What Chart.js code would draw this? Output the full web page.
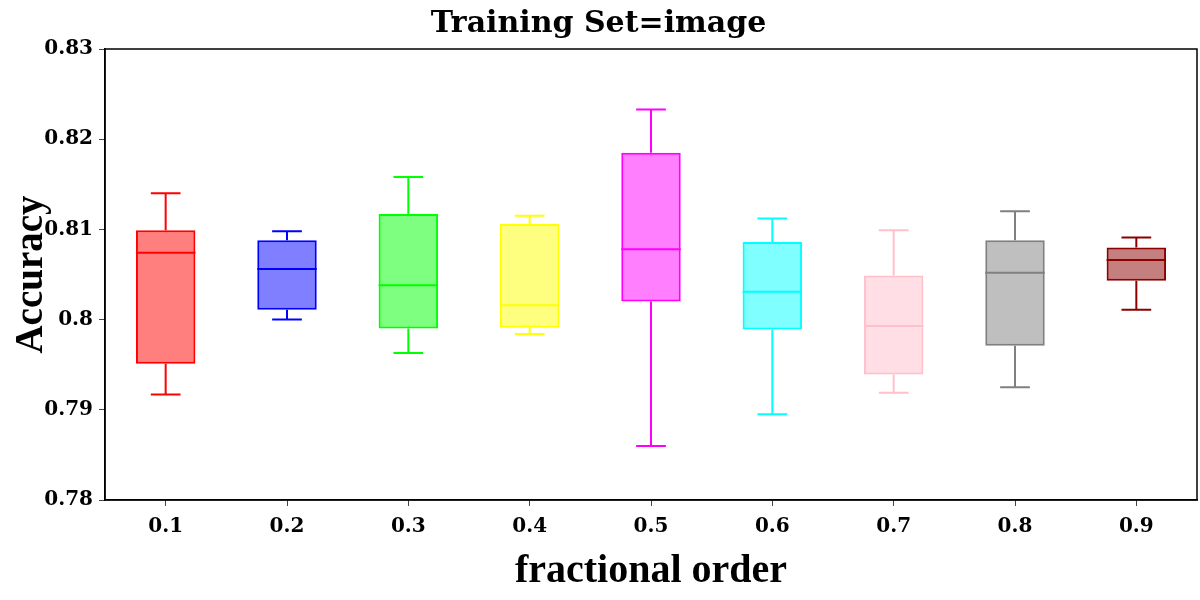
<!DOCTYPE html>
<html>
<head>
<meta charset="utf-8">
<script src="https://cdn.jsdelivr.net/npm/chart.js@4.4.1/dist/chart.umd.min.js"></script>
<style>
  html, body { margin: 0; padding: 0; background: #fff; }
  #wrap { width: 1200px; height: 600px; position: relative; }
</style>
</head>
<body>
<div id="wrap"><canvas id="box-chart"></canvas></div>
<script>
/* Box plot values (one entry per fractional order) */
const orders   = ['0.1', '0.2', '0.3', '0.4', '0.5', '0.6', '0.7', '0.8', '0.9'];
const whiskLo  = [0.7917, 0.8000, 0.7963, 0.7984, 0.7860, 0.7895, 0.7919, 0.7925, 0.8011];
const q1       = [0.7951, 0.8011, 0.7990, 0.7991, 0.8020, 0.7989, 0.7939, 0.7971, 0.8043];
const medians  = [0.8074, 0.8056, 0.8038, 0.8016, 0.8078, 0.8031, 0.7993, 0.8052, 0.8066];
const q3       = [0.8099, 0.8088, 0.8117, 0.8106, 0.8185, 0.8086, 0.8049, 0.8088, 0.8080];
const whiskHi  = [0.8140, 0.8098, 0.8158, 0.8115, 0.8233, 0.8112, 0.8099, 0.8120, 0.8091];
const yTicks   = [0.78, 0.79, 0.8, 0.81, 0.82, 0.83];

const lineColors = ['#ff0000', '#0000ff', '#00ff00', '#ffff00', '#ff00ff', '#00ffff', '#ffc0cb', '#808080', '#8b0000'];
const fillColors = ['rgba(255,0,0,0.5)', 'rgba(0,0,255,0.5)', 'rgba(0,255,0,0.5)', 'rgba(255,255,0,0.5)',
                    'rgba(255,0,255,0.5)', 'rgba(0,255,255,0.5)', 'rgba(255,192,203,0.5)',
                    'rgba(128,128,128,0.5)', 'rgba(139,0,0,0.5)'];

const SERIF = "'Liberation Serif', 'DejaVu Serif', serif";
const DJV   = "'DejaVu Serif', 'Liberation Serif', serif";

/* whiskers, caps, medians and the top/right frame */
const boxExtras = {
  id: 'boxExtras',
  afterDatasetsDraw(chart) {
    const { ctx, chartArea, scales } = chart;
    const bars = chart.getDatasetMeta(0).data;
    ctx.save();
    ctx.lineWidth = 2;
    bars.forEach((bar, i) => {
      const x = bar.x;
      const half = bar.width / 2;
      const cap = half / 2;
      const yLo = scales.y.getPixelForValue(whiskLo[i]);
      const yQ1 = scales.y.getPixelForValue(q1[i]);
      const yMd = scales.y.getPixelForValue(medians[i]);
      const yQ3 = scales.y.getPixelForValue(q3[i]);
      const yHi = scales.y.getPixelForValue(whiskHi[i]);
      ctx.strokeStyle = lineColors[i];
      ctx.beginPath();
      ctx.moveTo(x, yQ1); ctx.lineTo(x, yLo);
      ctx.moveTo(x - cap, yLo); ctx.lineTo(x + cap, yLo);
      ctx.moveTo(x, yQ3); ctx.lineTo(x, yHi);
      ctx.moveTo(x - cap, yHi); ctx.lineTo(x + cap, yHi);
      ctx.moveTo(x - half, yMd); ctx.lineTo(x + half, yMd);
      ctx.stroke();
    });
    ctx.strokeStyle = '#000';
    ctx.lineWidth = 1.5;
    ctx.strokeRect(chartArea.left, chartArea.top, chartArea.right - chartArea.left, chartArea.bottom - chartArea.top);
    ctx.restore();
  },
};

new Chart(document.getElementById('box-chart'), {
  type: 'bar',
  data: {
    labels: orders,
    datasets: [{
      data: orders.map((_, i) => [q1[i], q3[i]]),
      backgroundColor: fillColors,
      borderColor: lineColors,
      borderWidth: 2,
      borderSkipped: false,
      barPercentage: 0.49,
      categoryPercentage: 1,
    }],
  },
  options: {
    responsive: true,
    maintainAspectRatio: false,
    animation: false,
    layout: { padding: { left: 0, right: 3, top: 0, bottom: 0 } },
    plugins: {
      legend: { display: false },
      tooltip: { enabled: false },
      title: {
        display: true,
        text: 'Training Set=image',
        color: '#000',
        font: { family: DJV, size: 30, weight: 'bold', lineHeight: 1.2 },
        padding: { top: 6, bottom: 7 },
      },
    },
    scales: {
      x: {
        grid: { display: true, offset: false, drawOnChartArea: false, drawTicks: true, tickLength: 6, color: '#444' },
        border: { display: true, color: '#000', width: 1.5 },
        ticks: { color: '#000', padding: 9, font: { family: DJV, size: 20, weight: 'bold' } },
        title: {
          display: true, text: 'fractional order', color: '#000',
          font: { family: SERIF, size: 40, weight: 'bold', lineHeight: 1.2 },
          padding: { top: 0, bottom: 4 },
        },
        afterFit(scale) { scale.height = 100; },
      },
      y: {
        min: 0.78,
        max: 0.83,
        afterBuildTicks(scale) { scale.ticks = yTicks.map(v => ({ value: v })); },
        grid: { display: true, drawOnChartArea: false, drawTicks: true, tickLength: 6, color: '#444' },
        border: { display: true, color: '#000', width: 1.5 },
        ticks: {
          color: '#000', padding: 6,
          font: { family: DJV, size: 20, weight: 'bold' },
          callback: v => String(+v.toFixed(2)),
        },
        title: {
          display: true, text: 'Accuracy', color: '#000',
          font: { family: SERIF, size: 39, weight: 'bold', lineHeight: 1.2 },
          padding: { top: 9, bottom: 0 },
        },
        afterFit(scale) { scale.width = 105; },
      },
    },
  },
  plugins: [boxExtras],
});
</script>
</body>
</html>
